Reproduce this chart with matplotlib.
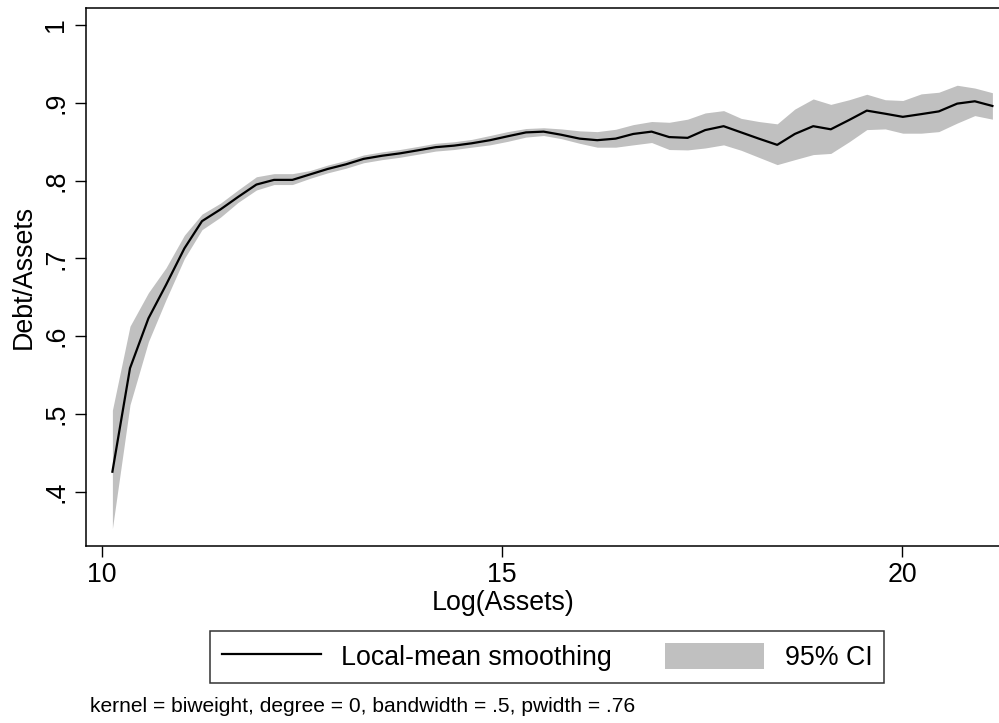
import matplotlib
matplotlib.use('Agg')
import matplotlib.pyplot as plt
from matplotlib.lines import Line2D
from matplotlib.patches import Patch

plt.rcParams['font.family'] = ['Liberation Sans', 'DejaVu Sans']

# lpoly grid (50 points) and smoothed values
log_assets = [10.13, 10.35, 10.58, 10.80, 11.03, 11.25, 11.48, 11.70, 11.93, 12.15,
              12.38, 12.60, 12.82, 13.05, 13.27, 13.50, 13.72, 13.95, 14.17, 14.40,
              14.62, 14.85, 15.07, 15.30, 15.52, 15.74, 15.97, 16.19, 16.42, 16.64,
              16.87, 17.09, 17.32, 17.54, 17.77, 17.99, 18.21, 18.44, 18.66, 18.89,
              19.11, 19.34, 19.56, 19.79, 20.01, 20.24, 20.46, 20.69, 20.91, 21.13]
debt_ratio = [0.426, 0.559, 0.623, 0.666, 0.713, 0.748, 0.763, 0.779, 0.795, 0.801,
              0.801, 0.808, 0.815, 0.821, 0.828, 0.832, 0.835, 0.839, 0.843, 0.845,
              0.848, 0.852, 0.857, 0.862, 0.863, 0.859, 0.854, 0.852, 0.854, 0.860,
              0.863, 0.856, 0.855, 0.865, 0.870, 0.862, 0.854, 0.846, 0.860, 0.870,
              0.866, 0.878, 0.890, 0.886, 0.882, 0.8855, 0.889, 0.899, 0.902, 0.896]
ci_upper = [0.505, 0.613, 0.656, 0.688, 0.730, 0.757, 0.771, 0.788, 0.805, 0.809,
            0.809, 0.813, 0.820, 0.826, 0.833, 0.837, 0.840, 0.844, 0.848, 0.850,
            0.853, 0.858, 0.863, 0.867, 0.868, 0.8665, 0.864, 0.863, 0.866, 0.872,
            0.876, 0.875, 0.879, 0.887, 0.890, 0.880, 0.876, 0.873, 0.892, 0.905,
            0.898, 0.904, 0.911, 0.904, 0.903, 0.9115, 0.9136, 0.9226, 0.919, 0.913]
ci_lower = [0.353, 0.512, 0.593, 0.647, 0.700, 0.737, 0.753, 0.772, 0.788, 0.795,
            0.795, 0.803, 0.810, 0.816, 0.823, 0.827, 0.830, 0.834, 0.838, 0.840,
            0.843, 0.846, 0.8505, 0.856, 0.858, 0.854, 0.848, 0.843, 0.843, 0.846,
            0.849, 0.840, 0.8395, 0.842, 0.846, 0.839, 0.830, 0.8206, 0.827, 0.8335,
            0.835, 0.850, 0.8656, 0.8665, 0.861, 0.861, 0.863, 0.874, 0.8836, 0.879]

x_ticks = [10, 15, 20]
y_ticks = [0.4, 0.5, 0.6, 0.7, 0.8, 0.9, 1.0]
y_ticklabels = ['.4', '.5', '.6', '.7', '.8', '.9', '1']

FS = 19.3
W, H = 999, 723

fig = plt.figure(figsize=(W / 100, H / 100), dpi=100)
# axes box in pixels: left 86, right off-canvas, top 7.5, bottom 545.5
ax = fig.add_axes([86 / W, (H - 545.5) / H, (1005 - 86) / W, (545.5 - 7.5) / H])

ax.fill_between(log_assets, ci_lower, ci_upper, color='#c0c0c0', linewidth=0)
ax.plot(log_assets, debt_ratio, color='black', linewidth=1.6)

ax.set_xlim(9.8, 21.2875)
ax.set_ylim(0.3312, 1.0225)
ax.set_xticks(x_ticks)
ax.set_yticks(y_ticks)
ax.set_yticklabels(y_ticklabels)
ax.tick_params(length=8, width=1, labelsize=FS, direction='out', pad=4)
ax.tick_params(axis='y', labelrotation=90)
for lab in ax.get_yticklabels():
    lab.set_va('center')
for s in ax.spines.values():
    s.set_linewidth(1.1)
ax.spines['right'].set_visible(False)

ax.set_xlabel('Log(Assets)', fontsize=FS, va='center')
ax.xaxis.set_label_coords((503 - 86) / 919, (545.5 - 603) / 538)
ax.set_ylabel('Debt/Assets', fontsize=FS, va='center')
ax.yaxis.set_label_coords((24 - 86) / 919, 0.5)

handles = [Line2D([], [], color='black', linewidth=1.6),
           Patch(facecolor='#c0c0c0', edgecolor='none')]
leg = fig.legend(handles, ['Local-mean smoothing', '95% CI'], ncol=2,
                 loc='center', bbox_to_anchor=(547 / W, 1 - 657 / H),
                 fontsize=FS, frameon=True, fancybox=False, edgecolor='black',
                 handlelength=3.7, handleheight=1.1, handletextpad=0.75,
                 columnspacing=2.0, borderpad=0.45)
leg.get_frame().set_linewidth(1.1)

fig.text(90 / W, 1 - 707 / H,
         'kernel = biweight, degree = 0, bandwidth = .5, pwidth = .76',
         fontsize=15.1, ha='left', va='center')

fig.savefig('out.png', dpi=100)
